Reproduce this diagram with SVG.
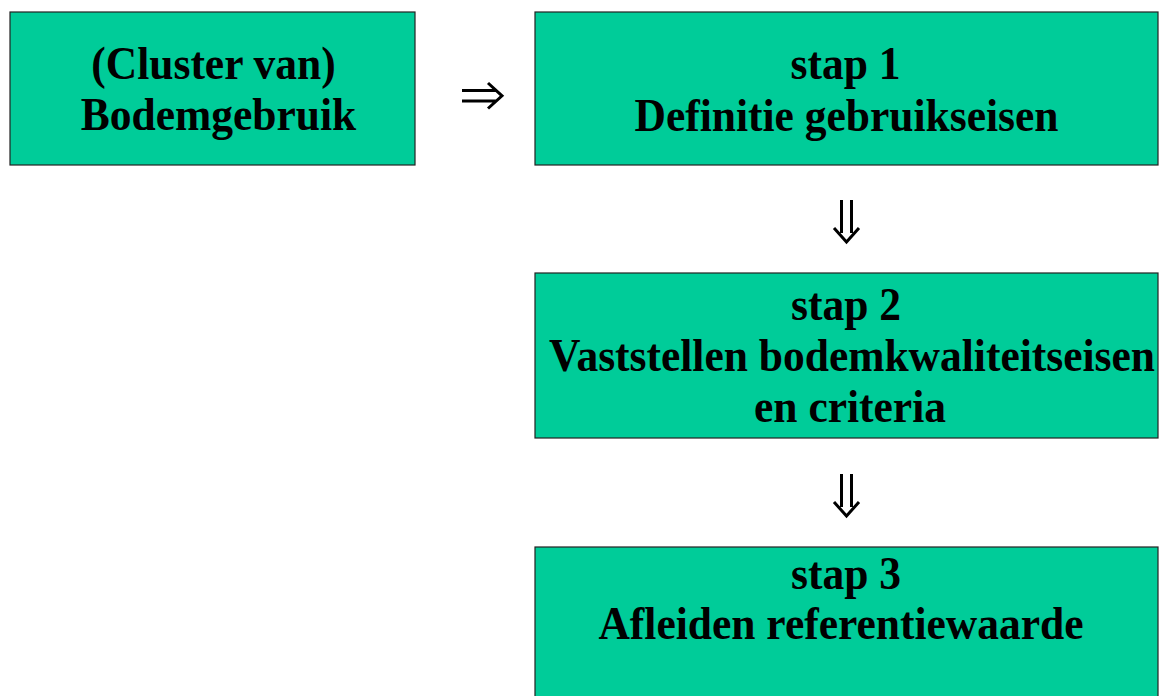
<svg xmlns="http://www.w3.org/2000/svg" width="1160" height="696" viewBox="0 0 1160 696">
<style>
.box{fill:#00CC99;stroke:#222;stroke-width:1.2}
.t{font-family:"Liberation Serif","Times New Roman",serif;font-weight:bold;font-size:43.5px;fill:#000;text-anchor:middle}
.arr{fill:none;stroke:#000;stroke-width:3;stroke-linejoin:miter}
</style>
<rect width="1160" height="696" fill="#fff"/>
<g id="node-bodemgebruik">
<rect class="box" x="10" y="12" width="405" height="153"/>
<text class="t" transform="translate(213.5 79) scale(1 1.06)">(Cluster van)</text>
<text class="t" transform="translate(218.5 130) scale(1 1.06)">Bodemgebruik</text>
</g>
<g id="node-stap1">
<rect class="box" x="535" y="12" width="623" height="153"/>
<text class="t" transform="translate(845.5 78.5) scale(1 1.06)">stap 1</text>
<text class="t" transform="translate(846.5 131) scale(1 1.06)">Definitie gebruikseisen</text>
</g>
<g id="node-stap2">
<rect class="box" x="535" y="273" width="623" height="165"/>
<text class="t" transform="translate(846 320) scale(1 1.06)">stap 2</text>
<text class="t" transform="translate(852 371) scale(1 1.06)">Vaststellen bodemkwaliteitseisen</text>
<text class="t" transform="translate(850 422) scale(1 1.06)">en criteria</text>
</g>
<g id="node-stap3">
<rect class="box" x="535" y="547" width="623" height="160"/>
<text class="t" transform="translate(846 589) scale(1 1.06)">stap 3</text>
<text class="t" transform="translate(841 639) scale(1 1.06)">Afleiden referentiewaarde</text>
</g>
<g id="connectors">
<path class="arr" d="M462 90.5H496M462 101H496M488 83L502 95.8L488 108.5"/>
<path class="arr" d="M841.5 200V233M851.5 200V233M834 228L846.5 242L859 228"/>
<path class="arr" d="M841.5 474V507M851.5 474V507M834 502L846.5 516L859 502"/>
</g>
</svg>
